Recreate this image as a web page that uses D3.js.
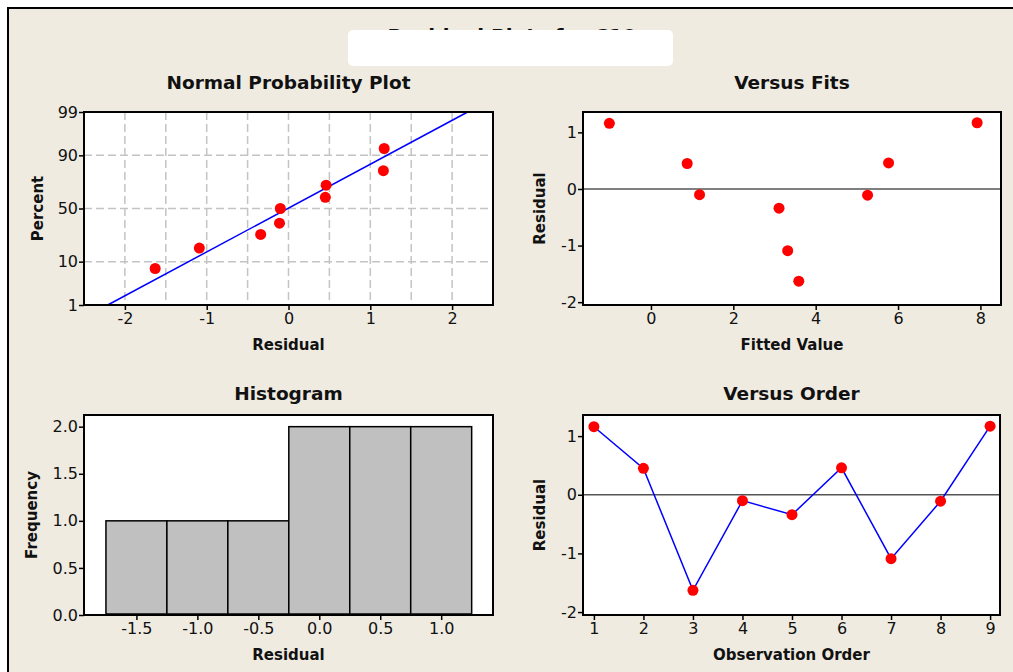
<!DOCTYPE html>
<html>
<head>
<meta charset="utf-8">
<script src="https://cdnjs.cloudflare.com/ajax/libs/d3/7.8.5/d3.min.js"></script>
<style>
  body { margin: 0; background: #ffffff; }
  text { font-family: "DejaVu Sans", Verdana, sans-serif; fill: #111; }
</style>
</head>
<body>
<div id="chart"></div>
<script>
//data
var obsOrder = [1, 2, 3, 4, 5, 6, 7, 8, 9];
var residuals = [1.16, 0.45, -1.63, -0.10, -0.34, 0.46, -1.09, -0.11, 1.17];
var fitted = [-1.01, 0.88, 3.59, 1.18, 3.11, 5.77, 3.32, 5.26, 7.92];

//plotting positions of the sorted residuals (percent)
var npPercent = [7.4, 17.0, 26.6, 36.2, 50.0, 60.6, 71.3, 81.9, 92.6];
//fitted normal line, two ends
var fitLineRes = [-2.21, 2.19];
var fitLinePct = [1, 99];

//tick labels
var npXTicks = [-2, -1, 0, 1, 2];
var npYTicks = [1, 10, 50, 90, 99];
var npXGrid = [-2, -1.5, -1, -0.5, 0, 0.5, 1, 1.5, 2];
var npYGrid = [10, 50, 90];
var fitXTicks = [0, 2, 4, 6, 8];
var resYTicks = [-2, -1, 0, 1];
var histEdges = [-1.75, -1.25, -0.75, -0.25, 0.25, 0.75, 1.25];
var histXTicks = [-1.5, -1.0, -0.5, 0.0, 0.5, 1.0];
var histYTicks = [0.0, 0.5, 1.0, 1.5, 2.0];

var width = 1013,
    height = 672;

var svg = d3.select("#chart").append("svg")
    .attr("width", width)
    .attr("height", height);

//beige panel with black frame on top and left
svg.append("rect")
    .attr("x", 8).attr("y", 8)
    .attr("width", 1010).attr("height", 670)
    .attr("fill", "#EFEBE1")
    .attr("stroke", "#000")
    .attr("stroke-width", 2);

//main title, partly covered by a white box as in the picture
svg.append("text")
    .attr("x", 512).attr("y", 43)
    .attr("text-anchor", "middle")
    .style("font-size", "20px")
    .style("font-weight", "bold")
    .text("Residual Plots for C10");

svg.append("rect")
    .attr("x", 348).attr("y", 30)
    .attr("width", 325).attr("height", 36)
    .attr("rx", 5)
    .attr("fill", "#ffffff");

//inverse normal cdf (Acklam)
function probit(p) {
  var a = [-39.69683028665376, 220.9460984245205, -275.9285104469687, 138.3577518672690, -30.66479806614716, 2.506628277459239],
      b = [-54.47609879822406, 161.5858368580409, -155.6989798598866, 66.80131188771972, -13.28068155288572],
      c = [-0.007784894002430293, -0.3223964580411365, -2.400758277161838, -2.549732539343734, 4.374664141464968, 2.938163982698783],
      d = [0.007784695709041462, 0.3224671290700398, 2.445134137142996, 3.754408661907416];
  var q, r;
  if (p < 0.02425) {
    q = Math.sqrt(-2 * Math.log(p));
    return (((((c[0]*q+c[1])*q+c[2])*q+c[3])*q+c[4])*q+c[5]) / ((((d[0]*q+d[1])*q+d[2])*q+d[3])*q+1);
  } else if (p > 1 - 0.02425) {
    q = Math.sqrt(-2 * Math.log(1 - p));
    return -(((((c[0]*q+c[1])*q+c[2])*q+c[3])*q+c[4])*q+c[5]) / ((((d[0]*q+d[1])*q+d[2])*q+d[3])*q+1);
  }
  q = p - 0.5;
  r = q * q;
  return (((((a[0]*r+a[1])*r+a[2])*r+a[3])*r+a[4])*r+a[5])*q / (((((b[0]*r+b[1])*r+b[2])*r+b[3])*r+b[4])*r+1);
}

///////////////////////////////////////////////////////////////////////////
//////////////////////////// Panel helpers ////////////////////////////////
///////////////////////////////////////////////////////////////////////////

function panel(box, title, titleY, xLabel, yLabel, yLabelX) {
  var g = svg.append("g");
  g.append("rect")
      .attr("x", box.x0).attr("y", box.y0)
      .attr("width", box.x1 - box.x0).attr("height", box.y1 - box.y0)
      .attr("fill", "#ffffff");
  g.append("text")
      .attr("x", (box.x0 + box.x1) / 2).attr("y", titleY)
      .attr("text-anchor", "middle")
      .style("font-size", "18.5px").style("font-weight", "bold")
      .text(title);
  g.append("text")
      .attr("x", (box.x0 + box.x1) / 2).attr("y", box.y1 + 45)
      .attr("text-anchor", "middle")
      .style("font-size", "15px").style("font-weight", "bold")
      .text(xLabel);
  g.append("text")
      .attr("transform", "translate(" + yLabelX + "," + ((box.y0 + box.y1) / 2) + ") rotate(-90)")
      .attr("text-anchor", "middle")
      .style("font-size", "15px").style("font-weight", "bold")
      .text(yLabel);
  return g;
}

function frame(g, box) {
  g.append("rect")
      .attr("x", box.x0).attr("y", box.y0)
      .attr("width", box.x1 - box.x0).attr("height", box.y1 - box.y0)
      .attr("fill", "none")
      .attr("stroke", "#000")
      .attr("stroke-width", 2);
}

function axes(g, box, x, y, xTicks, yTicks, xFmt, yFmt) {
  var ax = g.append("g")
      .attr("transform", "translate(0," + box.y1 + ")")
      .call(d3.axisBottom(x).tickValues(xTicks).tickFormat(xFmt).tickSize(5).tickSizeOuter(0).tickPadding(3));
  var ay = g.append("g")
      .attr("transform", "translate(" + box.x0 + ",0)")
      .call(d3.axisLeft(y).tickValues(yTicks).tickFormat(yFmt).tickSize(5).tickSizeOuter(0).tickPadding(1));
  [ax, ay].forEach(function(a) {
    a.select(".domain").remove();
    a.selectAll("line").attr("stroke", "#000").attr("stroke-width", 1.5);
    a.selectAll("text")
        .style("font-size", "16px")
        .style("font-family", "\"DejaVu Sans\", Verdana, sans-serif")
        .attr("fill", "#111");
  });
}

function zeroLine(g, box, y) {
  g.append("line")
      .attr("x1", box.x0).attr("x2", box.x1)
      .attr("y1", y(0)).attr("y2", y(0))
      .attr("stroke", "#555")
      .attr("stroke-width", 1.5);
}

function dots(g, data, fx, fy) {
  g.selectAll(null)
      .data(data)
      .enter().append("circle")
      .attr("cx", fx)
      .attr("cy", fy)
      .attr("r", 5.5)
      .attr("fill", "#FF0000");
}

var intFmt = function(d) { return String(d); };
var oneFmt = function(d) { return d.toFixed(1); };

///////////////////////////////////////////////////////////////////////////
///////////////////////// Normal probability plot /////////////////////////
///////////////////////////////////////////////////////////////////////////

var npBox = {x0: 84, x1: 493, y0: 112, y1: 305};
var npX = d3.scaleLinear().domain([-2.5, 2.5]).range([npBox.x0, npBox.x1]);
var npZ = d3.scaleLinear().domain([probit(0.01), probit(0.99)]).range([npBox.y1, npBox.y0]);
var npY = function(p) { return npZ(probit(p / 100)); };

var gNP = panel(npBox, "Normal Probability Plot", 89, "Residual", "Percent", 43);

gNP.selectAll(null).data(npXGrid).enter().append("line")
    .attr("x1", function(d) { return npX(d); }).attr("x2", function(d) { return npX(d); })
    .attr("y1", npBox.y0).attr("y2", npBox.y1)
    .attr("stroke", "#C4C4C4").attr("stroke-width", 1.5).attr("stroke-dasharray", "8,4");
gNP.selectAll(null).data(npYGrid).enter().append("line")
    .attr("x1", npBox.x0).attr("x2", npBox.x1)
    .attr("y1", function(d) { return npY(d); }).attr("y2", function(d) { return npY(d); })
    .attr("stroke", "#C4C4C4").attr("stroke-width", 1.5).attr("stroke-dasharray", "8,4");

gNP.append("path")
    .datum(d3.zip(fitLineRes, fitLinePct))
    .attr("d", d3.line().x(function(d) { return npX(d[0]); }).y(function(d) { return npY(d[1]); }))
    .attr("fill", "none")
    .attr("stroke", "#0000FF")
    .attr("stroke-width", 1.5);

var sortedRes = residuals.slice().sort(d3.ascending);
dots(gNP, d3.zip(sortedRes, npPercent),
     function(d) { return npX(d[0]); }, function(d) { return npY(d[1]); });

frame(gNP, npBox);
axes(gNP, npBox, npX, npZ, npXTicks, npYTicks.map(function(p) { return probit(p / 100); }),
     intFmt, function(d, i) { return npYTicks[i]; });

///////////////////////////////////////////////////////////////////////////
////////////////////////////// Versus fits ////////////////////////////////
///////////////////////////////////////////////////////////////////////////

var fitBox = {x0: 583, x1: 1001, y0: 112, y1: 305};
var fitX = d3.scaleLinear().domain([-1.65, 8.5]).range([fitBox.x0, fitBox.x1]);
var fitY = d3.scaleLinear().domain([-2.05, 1.36]).range([fitBox.y1, fitBox.y0]);

var gFit = panel(fitBox, "Versus Fits", 89, "Fitted Value", "Residual", 545);
zeroLine(gFit, fitBox, fitY);
dots(gFit, d3.zip(fitted, residuals),
     function(d) { return fitX(d[0]); }, function(d) { return fitY(d[1]); });
frame(gFit, fitBox);
axes(gFit, fitBox, fitX, fitY, fitXTicks, resYTicks, intFmt, intFmt);

///////////////////////////////////////////////////////////////////////////
/////////////////////////////// Histogram /////////////////////////////////
///////////////////////////////////////////////////////////////////////////

var hBox = {x0: 84, x1: 493, y0: 415, y1: 615};
var hX = d3.scaleLinear().domain([-1.93, 1.425]).range([hBox.x0, hBox.x1]);
var hY = d3.scaleLinear().domain([0, 2.124]).range([hBox.y1, hBox.y0]);

var bins = d3.bin()
    .domain([histEdges[0], histEdges[histEdges.length - 1]])
    .thresholds(histEdges.slice(1, -1))(residuals);

var gH = panel(hBox, "Histogram", 400, "Residual", "Frequency", 37);
gH.selectAll(".bar")
    .data(bins)
    .enter().append("rect")
    .attr("class", "bar")
    .attr("x", function(d) { return hX(d.x0); })
    .attr("width", function(d) { return hX(d.x1) - hX(d.x0); })
    .attr("y", function(d) { return hY(d.length); })
    .attr("height", function(d) { return hY(0) - hY(d.length) - 1; })
    .attr("fill", "#C0C0C0")
    .attr("stroke", "#000")
    .attr("stroke-width", 1.5);
frame(gH, hBox);
axes(gH, hBox, hX, hY, histXTicks, histYTicks, oneFmt, oneFmt);

///////////////////////////////////////////////////////////////////////////
///////////////////////////// Versus order ////////////////////////////////
///////////////////////////////////////////////////////////////////////////

var oBox = {x0: 583, x1: 1000, y0: 415, y1: 615};
var oX = d3.scaleLinear().domain([0.78, 9.2]).range([oBox.x0, oBox.x1]);
var oY = d3.scaleLinear().domain([-2.05, 1.36]).range([oBox.y1, oBox.y0]);

var gO = panel(oBox, "Versus Order", 400, "Observation Order", "Residual", 545);
zeroLine(gO, oBox, oY);
gO.append("path")
    .datum(d3.zip(obsOrder, residuals))
    .attr("d", d3.line().x(function(d) { return oX(d[0]); }).y(function(d) { return oY(d[1]); }))
    .attr("fill", "none")
    .attr("stroke", "#0000FF")
    .attr("stroke-width", 1.5);
dots(gO, d3.zip(obsOrder, residuals),
     function(d) { return oX(d[0]); }, function(d) { return oY(d[1]); });
frame(gO, oBox);
axes(gO, oBox, oX, oY, obsOrder, resYTicks, intFmt, intFmt);
</script>
</body>
</html>
